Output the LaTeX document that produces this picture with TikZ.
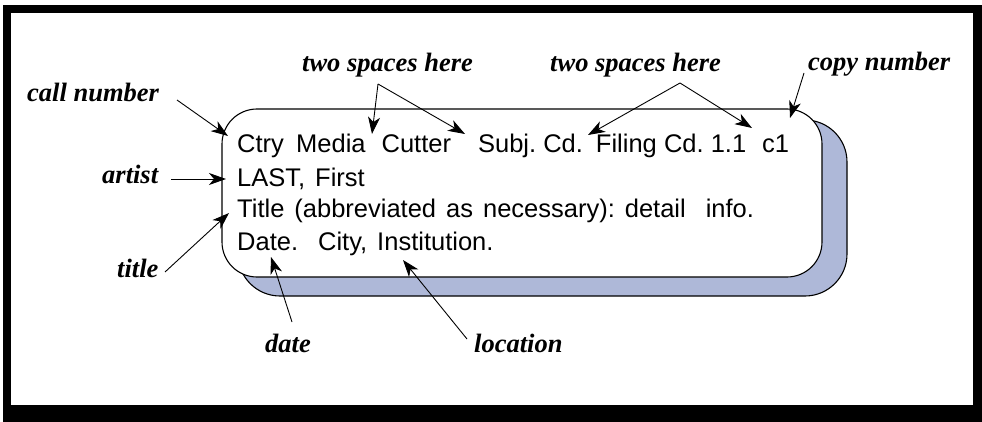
\documentclass[tikz,border=0pt]{standalone}
\usepackage{fontspec}
\setmainfont{Liberation Sans}
\newfontfamily\lblfont{Liberation Serif}
\usetikzlibrary{arrows.meta}
\definecolor{shadowblue}{RGB}{174,184,216}
\newcommand\cgap[1]{\hspace*{#1pt}}
\begin{document}
\frenchspacing
\begin{tikzpicture}[x=1pt,y=-1pt,
  lbl/.style={font=\lblfont\bfseries\itshape\fontsize{26.5}{30}\selectfont, inner sep=0pt, anchor=base west},
  cardtxt/.style={font=\fontsize{25.5}{30}\selectfont, inner sep=0pt, anchor=base west},
  pointer/.style={line width=0.9pt, -{Stealth[length=17pt,width=12pt,inset=5pt]}}
]
\useasboundingbox (0,0) rectangle (982,422);
% frame
\fill[black] (3,5) rectangle (982,422);
\fill[white] (11,13) rectangle (973,405);
% card shadow and card
\filldraw[fill=shadowblue, draw=black, line width=1.1pt, rounded corners=42pt] (238,120) rectangle (847,296);
\filldraw[fill=white, draw=black, line width=1.1pt, rounded corners=35pt] (222,109) rectangle (822,277);
% card text
\node[cardtxt] (l1) at (237,153) {Ctry\cgap{12.3}Media\cgap{16}Cutter\cgap{27}Subj.\cgap{7.1}Cd.\cgap{13}Filing\cgap{7.1}Cd.\cgap{7.1}1.1\cgap{16}c1};
\node[cardtxt] (l2) at (237,186) {LAST,\cgap{10}First};
\node[cardtxt] (l3) at (237,218) {Title\cgap{10}(abbreviated\cgap{10}as\cgap{10}necessary):\cgap{10}detail\cgap{20}info.};
\node[cardtxt] (l4) at (237,250) {Date.\cgap{20}City,\cgap{10}Institution.};
% labels
\node[lbl] (callnum) at (27,102) {call number};
\node[lbl] (artist) at (102,184) {artist};
\node[lbl] (title) at (117,277) {title};
\node[lbl] (date) at (265,352) {date};
\node[lbl] (location) at (474,352) {location};
\node[lbl] (twoa) at (302,72) {two spaces here};
\node[lbl] (twob) at (550,72) {two spaces here};
\node[lbl] (copynum) at (808,71) {copy number};
% connector coordinates
\coordinate (cnS) at (177,100); \coordinate (cnT) at (228,136);
\coordinate (arS) at (171,179); \coordinate (arT) at (226,179);
\coordinate (tiS) at (165,272); \coordinate (tiT) at (229,213);
\coordinate (daS) at (292,322); \coordinate (daT) at (271,257);
\coordinate (loS) at (467,339); \coordinate (loT) at (403,260);
\coordinate (taA) at (378,84); \coordinate (taT1) at (372,134); \coordinate (taT2) at (465,134);
\coordinate (tbA) at (680,83); \coordinate (tbT1) at (588,135); \coordinate (tbT2) at (752,128);
\coordinate (cpS) at (804,73); \coordinate (cpT) at (790,118);
% connectors
\draw[pointer] (cnS) -- (cnT);
\draw[pointer] (arS) -- (arT);
\draw[pointer] (tiS) -- (tiT);
\draw[pointer] (daS) -- (daT);
\draw[pointer] (loS) -- (loT);
\draw[pointer] (taA) -- (taT1);
\draw[pointer] (taA) -- (taT2);
\draw[pointer] (tbA) -- (tbT1);
\draw[pointer] (tbA) -- (tbT2);
\draw[pointer] (cpS) -- (cpT);
\end{tikzpicture}
\end{document}
